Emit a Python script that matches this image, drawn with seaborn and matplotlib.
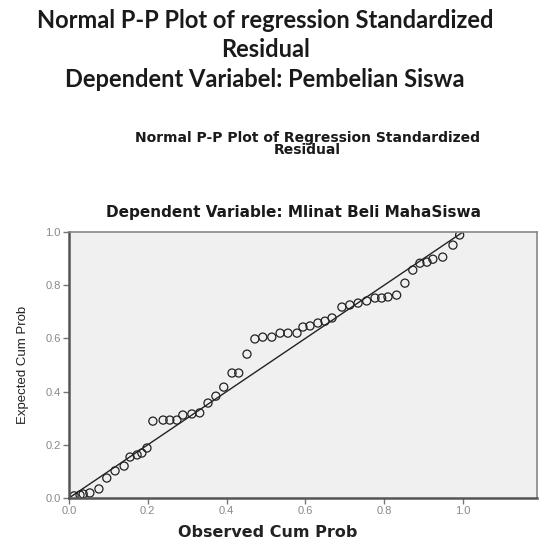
import seaborn as sns
import matplotlib.pyplot as plt
import pandas as pd

# observed vs expected cumulative probabilities
observed = [0.013, 0.028, 0.036, 0.053, 0.076, 0.096, 0.117, 0.140, 0.155, 0.173,
            0.185, 0.198, 0.213, 0.239, 0.256, 0.274, 0.289, 0.312, 0.332, 0.353,
            0.373, 0.393, 0.414, 0.431, 0.452, 0.472, 0.492, 0.515, 0.536, 0.556,
            0.579, 0.594, 0.612, 0.632, 0.650, 0.668, 0.693, 0.713, 0.734, 0.756,
            0.777, 0.794, 0.810, 0.832, 0.853, 0.873, 0.891, 0.909, 0.924, 0.949,
            0.975, 0.992]
expected = [0.008, 0.011, 0.015, 0.019, 0.034, 0.075, 0.102, 0.120, 0.154, 0.162,
            0.169, 0.188, 0.289, 0.293, 0.293, 0.293, 0.312, 0.316, 0.320, 0.357,
            0.383, 0.417, 0.470, 0.470, 0.541, 0.598, 0.605, 0.605, 0.620, 0.620,
            0.620, 0.643, 0.647, 0.658, 0.665, 0.677, 0.718, 0.726, 0.733, 0.741,
            0.752, 0.752, 0.756, 0.763, 0.808, 0.857, 0.883, 0.887, 0.898, 0.906,
            0.951, 0.989]
diag = [0.0, 1.0]
ticks = [0.0, 0.2, 0.4, 0.6, 0.8, 1.0]

df = pd.DataFrame({'obs': observed, 'exp': expected})

sns.set_style("white")
fig = plt.figure(figsize=(5.39, 5.41), dpi=100)
ax = fig.add_axes([0.128, 0.0795, 0.868, 0.4915])
ax.set_facecolor('#f0f0f0')

sns.lineplot(x=diag, y=diag, ax=ax, color='#222222', linewidth=1.0)
sns.scatterplot(data=df, x='obs', y='exp', ax=ax, marker='o', s=34,
                facecolor='none', edgecolor='#222222', linewidth=0.9)

ax.set_xlim(0, 1.188)
ax.set_ylim(0, 1.0)
ax.set_xticks(ticks)
ax.set_yticks(ticks)
ax.set_xticklabels([f"{t:.1f}" for t in ticks])
ax.set_yticklabels([f"{t:.1f}" for t in ticks])
ax.tick_params(axis='both', which='both', direction='out', length=4, width=1,
               colors='#777777', labelsize=8, labelcolor='#888888', pad=2,
               bottom=True, left=True)
for t in ax.get_xticklabels() + ax.get_yticklabels():
    t.set_family('Liberation Sans')

for side in ['left', 'bottom']:
    ax.spines[side].set_color('#555555')
    ax.spines[side].set_linewidth(1.8)
for side in ['top', 'right']:
    ax.spines[side].set_color('#888888')
    ax.spines[side].set_linewidth(1.2)

ax.set_xlabel("Observed Cum Prob", fontsize=11.5, fontweight='bold',
              family='DejaVu Sans', color='#222222')
ax.xaxis.set_label_coords(0.425, -0.1)
ax.set_ylabel("Expected Cum Prob", fontsize=9.5, family='Liberation Sans',
              color='#222222')
ax.yaxis.set_label_coords(-0.085, 0.5)

# headings
fig.text(0.492, 0.984, "Normal P-P Plot of regression Standardized\nResidual\nDependent Variabel: Pembelian Siswa",
         ha='center', va='top', fontsize=17, fontweight='bold', family='Lato',
         color='#1a1a1a', linespacing=1.36)
fig.text(0.57, 0.758, "Normal P-P Plot of Regression Standardized\nResidual",
         ha='center', va='top', fontsize=10, fontweight='bold',
         family='DejaVu Sans', color='#1a1a1a', linespacing=0.85)
fig.text(0.545, 0.608, "Dependent Variable: Mlinat Beli MahaSiswa",
         ha='center', va='center', fontsize=11, fontweight='bold',
         family='DejaVu Sans', color='#1a1a1a')

fig.savefig("out.png", dpi=100)
